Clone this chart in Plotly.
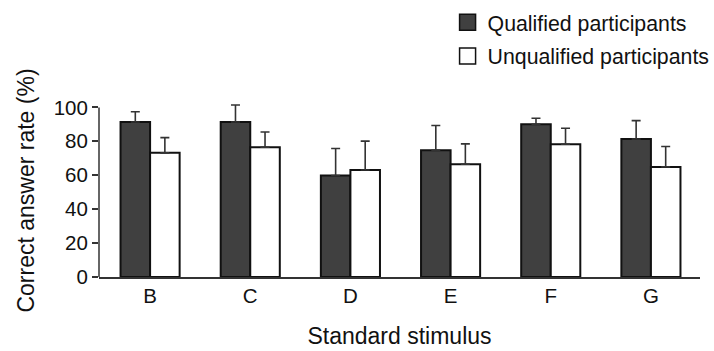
import plotly.graph_objects as go

categories = ["B", "C", "D", "E", "F", "G"]
qualified = [91.4, 91.4, 59.8, 74.7, 90.1, 81.4]
qualified_err = [6.0, 10.0, 16.0, 14.6, 3.5, 10.8]
unqualified = [73.2, 76.5, 63.1, 66.5, 78.3, 64.9]
unqualified_err = [9.0, 9.0, 17.0, 12.0, 9.4, 12.0]
y_ticks = [0, 20, 40, 60, 80, 100]

FONT = "Liberation Sans, Arial, sans-serif"
dark = "#404040"
edge = "#111111"

fig = go.Figure()
fig.add_trace(go.Bar(
    x=categories, y=qualified, name="Qualified participants",
    marker=dict(color=dark, line=dict(color=edge, width=2)),
    error_y=dict(type="data", symmetric=False, array=qualified_err,
                 arrayminus=[0]*len(qualified_err), color="#333333",
                 thickness=1.6, width=4.5),
    showlegend=False,
))
fig.add_trace(go.Bar(
    x=categories, y=unqualified, name="Unqualified participants",
    marker=dict(color="white", line=dict(color=edge, width=2)),
    error_y=dict(type="data", symmetric=False, array=unqualified_err,
                 arrayminus=[0]*len(unqualified_err), color="#333333",
                 thickness=1.6, width=4.5),
    showlegend=False,
))
# legend entries
fig.add_trace(go.Scatter(x=[None], y=[None], mode="markers", name="Qualified participants",
                         legendgroup="q",
                         marker=dict(symbol="square", size=16, color=dark,
                                     line=dict(color=edge, width=1.5))))
fig.add_trace(go.Scatter(x=[None], y=[None], mode="markers", name="Unqualified participants",
                         legendgroup="u",
                         marker=dict(symbol="square", size=16, color="white",
                                     line=dict(color=edge, width=1.5))))

fig.add_shape(type="line", xref="paper", yref="y", x0=0, x1=0, y0=0, y1=100,
              line=dict(color="#333333", width=1.5))

fig.update_layout(
    width=714, height=351,
    margin=dict(l=99, r=14, t=104, b=74, autoexpand=False),
    paper_bgcolor="white", plot_bgcolor="white",
    font=dict(family=FONT, size=21, color="#111111"),
    barmode="group", bargap=0.41, bargroupgap=0,
    showlegend=True,
    legend=dict(x=0.58, y=1.59, xanchor="left", yanchor="top",
                font=dict(size=21.3), bgcolor="rgba(0,0,0,0)",
                itemwidth=30, tracegroupgap=3, traceorder="grouped"),
    xaxis=dict(range=[-0.51, 5.49], showline=True, linecolor="#333333", linewidth=1.5,
               ticks="", showgrid=False, zeroline=False, automargin=False,
               title=dict(text="Standard stimulus", font=dict(size=23), standoff=22),
               tickfont=dict(size=20.5)),
    yaxis=dict(range=[0, 102], showline=False, tickvals=y_ticks, ticks="outside",
               ticklen=6, tickwidth=1.5, tickcolor="#333333", showgrid=False,
               zeroline=False, tickfont=dict(size=20.5), automargin=False,
               title=dict(text="Correct answer rate (%)", font=dict(size=23), standoff=12)),
)

fig.write_html("out.html", config={"displayModeBar": False},
               post_script="document.body.style.margin='0';")
